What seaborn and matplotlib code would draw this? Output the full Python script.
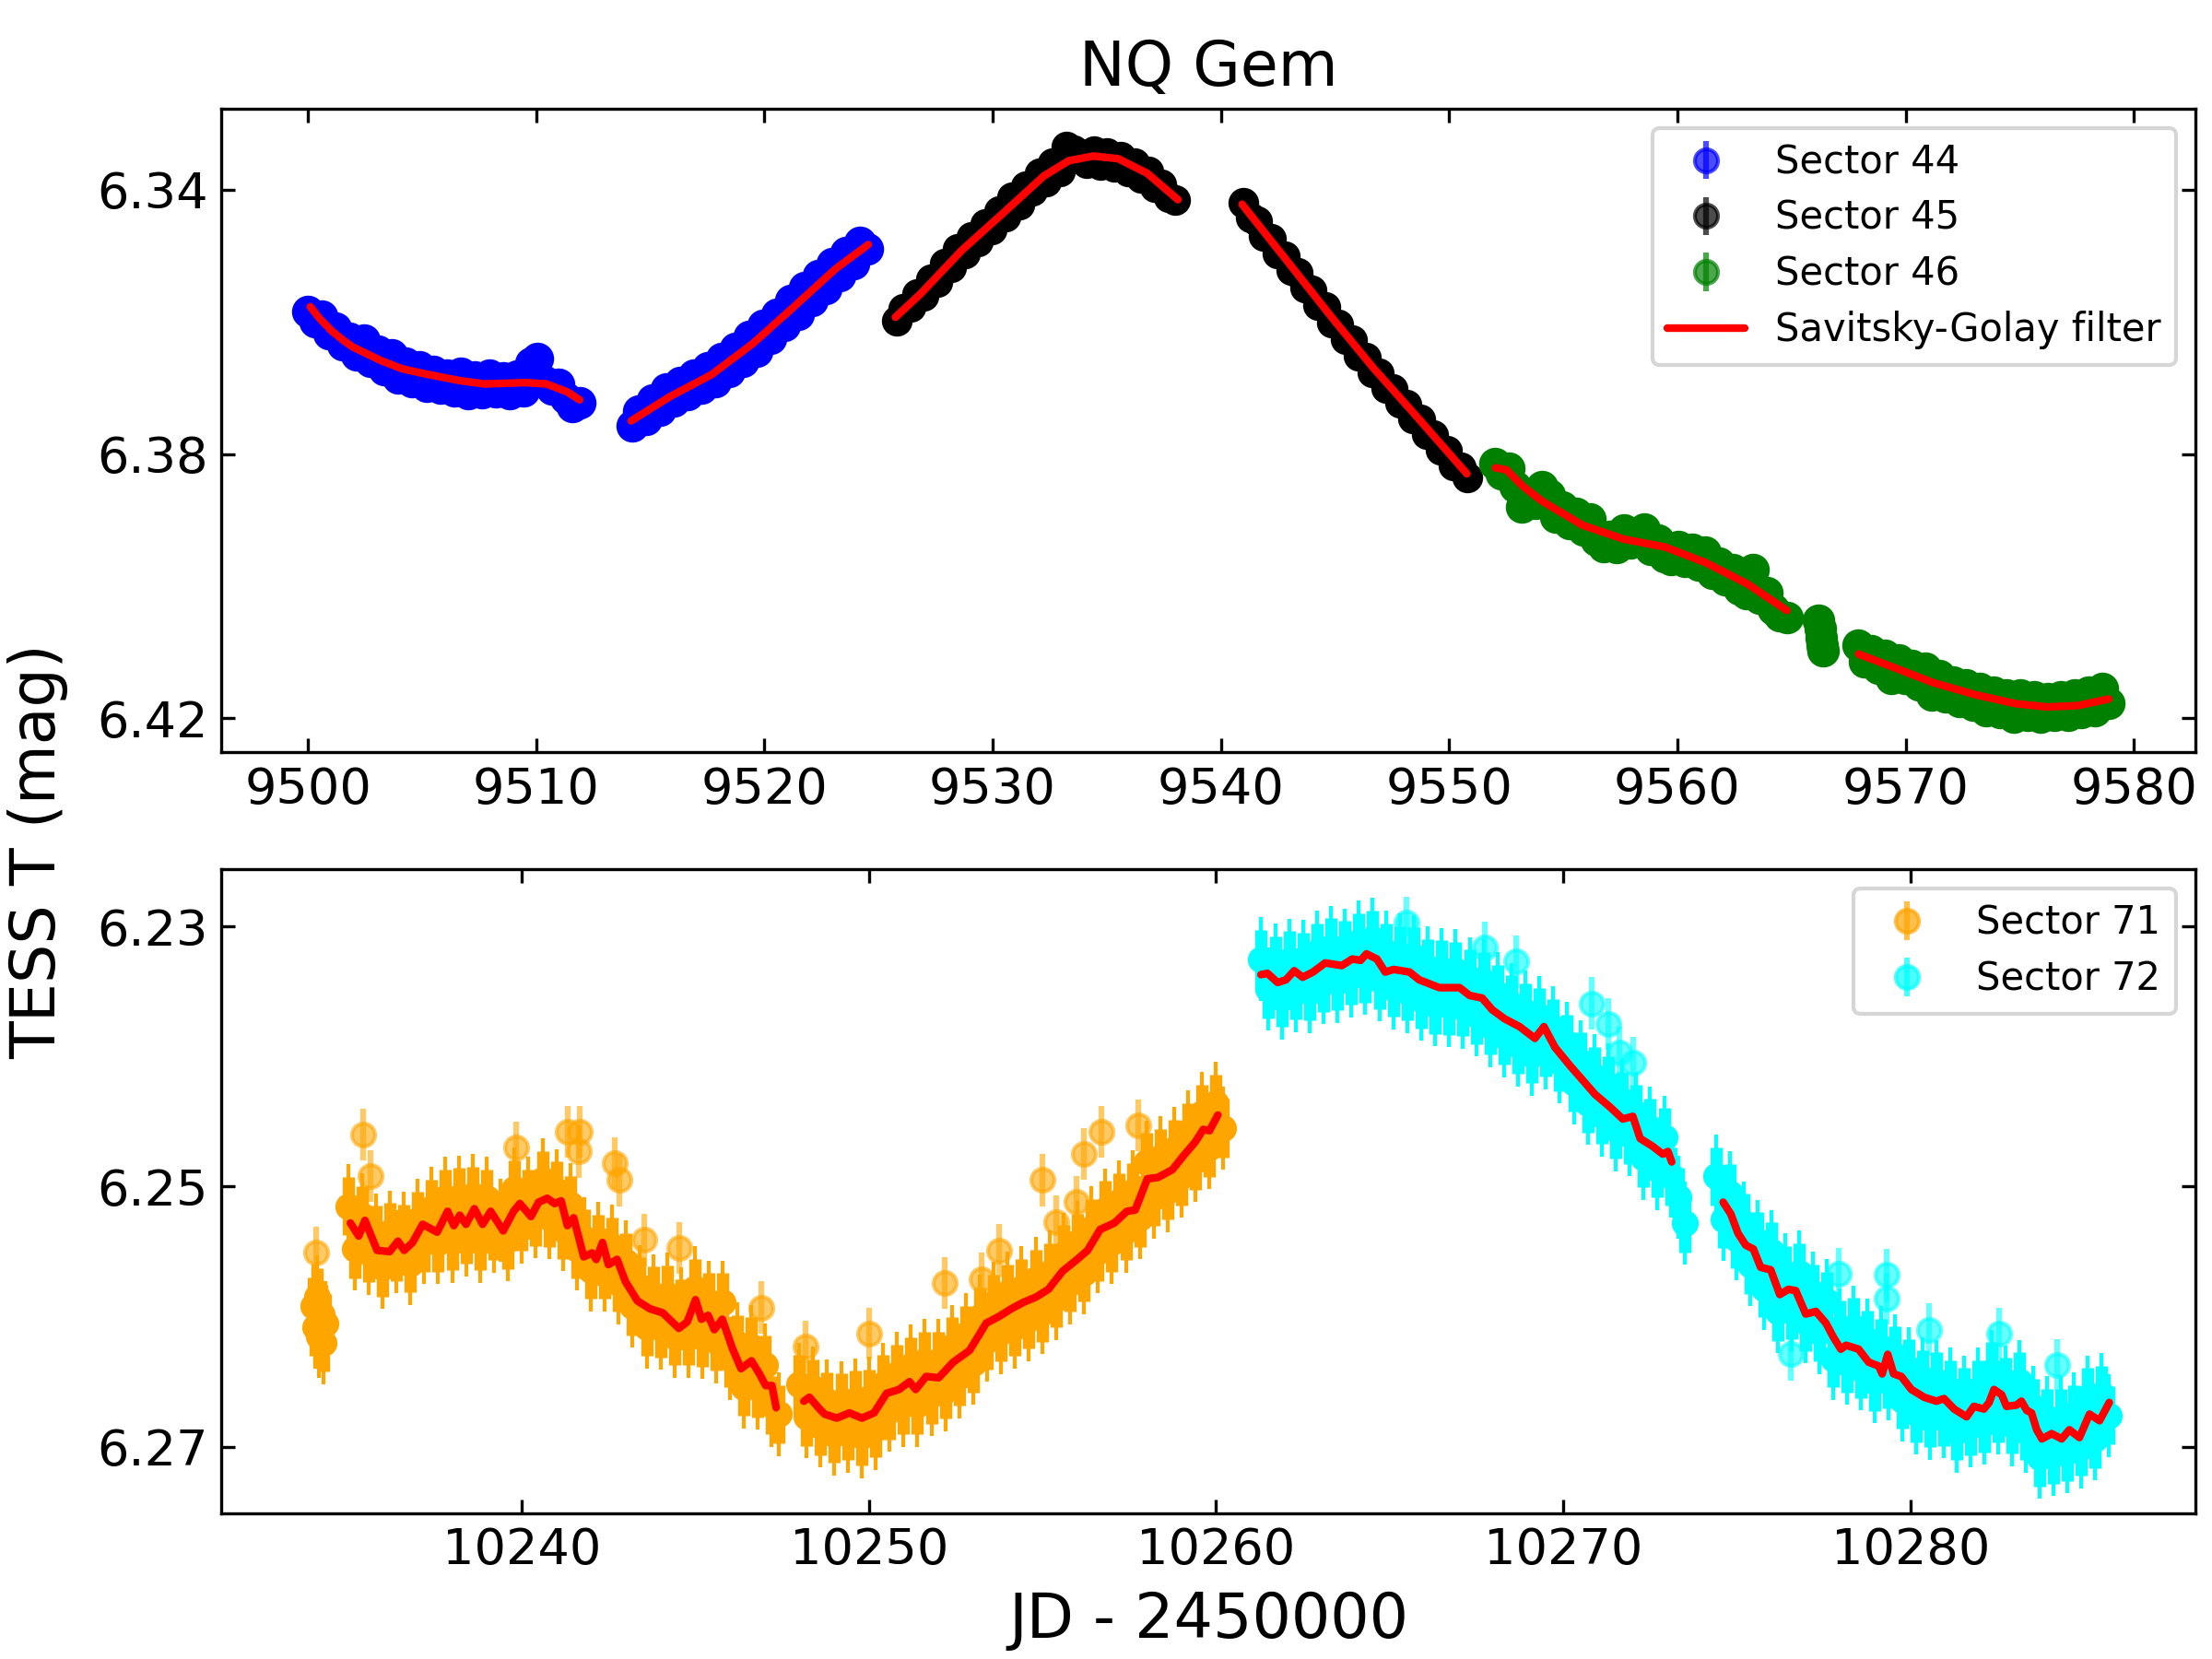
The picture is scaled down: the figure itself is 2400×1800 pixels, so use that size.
import numpy as np
import matplotlib
matplotlib.use("Agg")
import matplotlib.pyplot as plt
import seaborn as sns

# ==========================
# Data
# ==========================

# Sector 44 (two orbits)
s44a_mag = [6.3585, 6.3600, 6.3592, 6.3618, 6.3610, 6.3635, 6.3625, 6.3650, 6.3628, 6.3660,
            6.3645, 6.3672, 6.3650, 6.3685, 6.3662, 6.3690, 6.3668, 6.3698, 6.3675, 6.3700,
            6.3680, 6.3705, 6.3678, 6.3708, 6.3684, 6.3707, 6.3680, 6.3706, 6.3685, 6.3708,
            6.3682, 6.3705, 6.3662, 6.3655, 6.3690, 6.3702, 6.3695, 6.3715, 6.3728, 6.3722]
s44b_mag = [6.3758, 6.3735, 6.3748, 6.3718, 6.3733, 6.3702, 6.3720, 6.3692, 6.3710, 6.3680,
            6.3700, 6.3670, 6.3690, 6.3655, 6.3675, 6.3640, 6.3660, 6.3622, 6.3645, 6.3605,
            6.3625, 6.3588, 6.3605, 6.3568, 6.3588, 6.3548, 6.3568, 6.3530, 6.3550, 6.3512,
            6.3530, 6.3495, 6.3512, 6.3480, 6.3490]
# Sector 45
s45a_mag = [6.3598, 6.3580, 6.3578, 6.3558, 6.3560, 6.3535, 6.3540, 6.3512, 6.3518, 6.3490,
            6.3496, 6.3472, 6.3478, 6.3452, 6.3460, 6.3432, 6.3440, 6.3412, 6.3422, 6.3395,
            6.3402, 6.3375, 6.3388, 6.3360, 6.3372, 6.3335, 6.3340, 6.3346, 6.3360, 6.3342,
            6.3362, 6.3345, 6.3365, 6.3350, 6.3372, 6.3360, 6.3382, 6.3372, 6.3396, 6.3392,
            6.3412, 6.3415]
s45b_mag = [6.3420, 6.3442, 6.3448, 6.3470, 6.3474, 6.3496, 6.3500, 6.3522, 6.3526, 6.3548,
            6.3552, 6.3575, 6.3578, 6.3601, 6.3604, 6.3626, 6.3628, 6.3651, 6.3654, 6.3677,
            6.3678, 6.3700, 6.3702, 6.3723, 6.3725, 6.3746, 6.3748, 6.3770, 6.3772, 6.3793,
            6.3795, 6.3817, 6.3820, 6.3836]
# Sector 46
s46a_mag = [6.3815, 6.3830, 6.3822, 6.3850, 6.3880, 6.3860, 6.3875, 6.3850, 6.3862, 6.3895,
            6.3880, 6.3905, 6.3890, 6.3915, 6.3898, 6.3930, 6.3940, 6.3925, 6.3942, 6.3915,
            6.3935, 6.3920, 6.3914, 6.3945, 6.3930, 6.3955, 6.3960, 6.3940, 6.3962, 6.3945,
            6.3968, 6.3948, 6.3980, 6.3965, 6.3990, 6.3975, 6.4005, 6.4012, 6.3975, 6.4018,
            6.4010, 6.4035, 6.4045, 6.4048]
s46c_mag = [6.4052, 6.4065, 6.4078, 6.4090, 6.4098]
s46b_mag = [6.4090, 6.4115, 6.4098, 6.4125, 6.4105, 6.4140, 6.4112, 6.4140, 6.4120, 6.4150,
            6.4125, 6.4165, 6.4135, 6.4168, 6.4145, 6.4175, 6.4150, 6.4180, 6.4155, 6.4188,
            6.4160, 6.4192, 6.4165, 6.4198, 6.4165, 6.4195, 6.4168, 6.4198, 6.4170, 6.4196,
            6.4168, 6.4195, 6.4165, 6.4192, 6.4160, 6.4188, 6.4155, 6.4178]

# segment start / end times (JD - 2450000)
s44a_t = np.linspace(9500.0, 9511.9, len(s44a_mag))
s44b_t = np.linspace(9514.2, 9524.5, len(s44b_mag))
s45a_t = np.linspace(9525.8, 9538.0, len(s45a_mag))
s45b_t = np.linspace(9541.0, 9550.8, len(s45b_mag))
s46a_t = np.linspace(9552.0, 9564.8, len(s46a_mag))
s46c_t = np.linspace(9566.2, 9566.4, len(s46c_mag))
s46b_t = np.linspace(9567.9, 9578.9, len(s46b_mag))
err_top = 0.0006

# Savitsky-Golay curves, top panel
sg44a_t = [9500.10, 9500.51, 9501.05, 9501.51, 9501.96, 9503.22, 9504.12, 9505.03, 9506.65,
           9507.74, 9509.55, 9510.45, 9511.36, 9511.90]
sg44a_m = [6.3577, 6.3595, 6.3614, 6.3627, 6.3638, 6.3659, 6.3671, 6.3678, 6.3689,
           6.3694, 6.3692, 6.3694, 6.3706, 6.3718]
sg44b_t = [9514.16, 9515.87, 9517.68, 9519.49, 9521.30, 9523.11, 9524.55]
sg44b_m = [6.3750, 6.3713, 6.3680, 6.3633, 6.3577, 6.3520, 6.3483]
sg45a_t = [9525.74, 9526.83, 9528.64, 9530.44, 9532.25, 9533.34, 9534.42, 9535.50, 9536.77, 9538.12]
sg45a_m = [6.3593, 6.3558, 6.3492, 6.3436, 6.3379, 6.3356, 6.3349, 6.3353, 6.3375, 6.3415]
sg45b_t = [9540.93, 9543.09, 9544.90, 9546.71, 9548.52, 9550.78]
sg45b_m = [6.3422, 6.3516, 6.3595, 6.3671, 6.3741, 6.3830]
sg46a_t = [9552.03, 9552.51, 9553.20, 9554.05, 9555.85, 9557.66, 9559.47, 9561.27, 9563.08, 9564.80]
sg46a_m = [6.3821, 6.3824, 6.3848, 6.3871, 6.3908, 6.3929, 6.3941, 6.3965, 6.3997, 6.4037]
sg46b_t = [9567.94, 9569.39, 9571.19, 9573.00, 9574.81, 9576.20, 9577.54, 9578.90]
sg46b_m = [6.4103, 6.4122, 6.4146, 6.4164, 6.4178, 6.4183, 6.4181, 6.4171]

# Sector 71
s71a_mag = [6.2592, 6.2608, 6.2585, 6.2615, 6.2598, 6.2620, 6.2605]
s71b_mag = [6.2515, 6.2548, 6.2522, 6.2551, 6.2537, 6.2562, 6.2535, 6.2550, 6.2536, 6.2559,
            6.2526, 6.2543, 6.2517, 6.2543, 6.2509, 6.2542, 6.2508, 6.2537, 6.2507, 6.2542,
            6.2509, 6.2534, 6.2526, 6.2541, 6.2502, 6.2527, 6.2509, 6.2523, 6.2495, 6.2524,
            6.2503, 6.2533, 6.2514, 6.2548, 6.2540, 6.2564, 6.2544, 6.2564, 6.2546, 6.2574,
            6.2558, 6.2592, 6.2577, 6.2608, 6.2584, 6.2609, 6.2583, 6.2615, 6.2594, 6.2615,
            6.2578, 6.2616, 6.2589, 6.2619, 6.2589, 6.2632, 6.2621, 6.2654, 6.2623, 6.2655,
            6.2637, 6.2668, 6.2675]
s71c_mag = [6.2652, 6.2677, 6.2655, 6.2684, 6.2665, 6.2690, 6.2666, 6.2688, 6.2664, 6.2692,
            6.2663, 6.2686, 6.2652, 6.2672, 6.2644, 6.2668, 6.2638, 6.2668, 6.2634, 6.2660,
            6.2634, 6.2656, 6.2623, 6.2646, 6.2614, 6.2636, 6.2600, 6.2618, 6.2590, 6.2612,
            6.2582, 6.2608, 6.2578, 6.2602, 6.2571, 6.2597, 6.2566, 6.2586, 6.2552, 6.2574,
            6.2543, 6.2566, 6.2532, 6.2550, 6.2518, 6.2543, 6.2512, 6.2534, 6.2504, 6.2524,
            6.2481, 6.2508, 6.2478, 6.2503, 6.2471, 6.2492, 6.2458, 6.2480, 6.2444, 6.2470,
            6.2436, 6.2455]
# Sector 72
s72a_mag = [6.2325, 6.2348, 6.2330, 6.2355, 6.2326, 6.2349, 6.2327, 6.2350, 6.2320, 6.2343,
            6.2316, 6.2342, 6.2318, 6.2338, 6.2312, 6.2336, 6.2310, 6.2341, 6.2320, 6.2347,
            6.2322, 6.2350, 6.2323, 6.2356, 6.2332, 6.2360, 6.2333, 6.2361, 6.2334, 6.2362,
            6.2340, 6.2368, 6.2342, 6.2376, 6.2352, 6.2384, 6.2360, 6.2391, 6.2366, 6.2398,
            6.2370, 6.2393, 6.2378, 6.2404, 6.2390, 6.2420, 6.2404, 6.2436, 6.2415, 6.2445,
            6.2422, 6.2456, 6.2434, 6.2460, 6.2444, 6.2478, 6.2455, 6.2486, 6.2462, 6.2492,
            6.2508, 6.2528]
s72b_mag = [6.2492, 6.2525, 6.2505, 6.2540, 6.2528, 6.2560, 6.2542, 6.2578, 6.2550, 6.2596,
            6.2568, 6.2595, 6.2566, 6.2604, 6.2582, 6.2612, 6.2588, 6.2632, 6.2610, 6.2636,
            6.2608, 6.2640, 6.2618, 6.2650, 6.2624, 6.2648, 6.2630, 6.2664, 6.2640, 6.2674,
            6.2648, 6.2678, 6.2650, 6.2677, 6.2656, 6.2688, 6.2662, 6.2684, 6.2656, 6.2682,
            6.2642, 6.2674, 6.2654, 6.2683, 6.2650, 6.2688, 6.2670, 6.2708, 6.2678, 6.2706,
            6.2678, 6.2704, 6.2675, 6.2700, 6.2662, 6.2694, 6.2660, 6.2676]

s71a_t = np.linspace(10234.0, 10234.35, len(s71a_mag))
s71b_t = np.linspace(10235.0, 10247.4, len(s71b_mag))
s71c_t = np.linspace(10248.0, 10260.2, len(s71c_mag))
s72a_t = np.linspace(10261.3, 10273.5, len(s72a_mag))
s72b_t = np.linspace(10274.4, 10285.7, len(s72b_mag))
err_bot = 0.0032

# isolated points standing out of the bands
out71_t = [10234.08, 10235.43, 10235.66, 10239.83, 10241.32, 10241.68, 10241.65, 10242.69,
           10242.81, 10243.52, 10244.53, 10246.91, 10248.19, 10250.00, 10252.18, 10253.25,
           10253.75, 10255.01, 10255.39, 10255.99, 10256.20, 10256.70, 10257.75]
out71_m = [6.2551, 6.2460, 6.2492, 6.2470, 6.2458, 6.2458, 6.2473, 6.2482,
           6.2495, 6.2541, 6.2547, 6.2593, 6.2623, 6.2613, 6.2574, 6.2571,
           6.2549, 6.2495, 6.2527, 6.2512, 6.2475, 6.2458, 6.2453]
out72_t = [10265.49, 10267.73, 10268.64, 10270.81, 10271.30, 10271.61, 10272.00, 10277.92,
           10279.30, 10279.30, 10280.53, 10276.55, 10282.55, 10284.21]
out72_m = [6.2297, 6.2316, 6.2327, 6.2359, 6.2375, 6.2397, 6.2405, 6.2567,
           6.2568, 6.2586, 6.2610, 6.2629, 6.2613, 6.2637]
err_out = 0.0020

# Savitsky-Golay curves, bottom panel
sg71b_t = [10235.07, 10235.31, 10235.49, 10235.84, 10236.20, 10236.44, 10236.62, 10236.86,
           10237.15, 10237.57, 10237.87, 10238.05, 10238.22, 10238.40, 10238.64, 10238.88,
           10239.11, 10239.47, 10239.77, 10239.95, 10240.27, 10240.49, 10240.74, 10240.95,
           10241.14, 10241.32, 10241.50, 10241.79, 10242.03, 10242.15, 10242.33, 10242.50,
           10242.75, 10242.99, 10243.34, 10243.70, 10244.06, 10244.53, 10244.77, 10245.01,
           10245.18, 10245.37, 10245.55, 10245.78, 10246.08, 10246.32, 10246.62, 10246.85,
           10247.03, 10247.21, 10247.33]
sg71b_m = [6.2528, 6.2538, 6.2526, 6.2549, 6.2550, 6.2542, 6.2549, 6.2543,
           6.2529, 6.2535, 6.2519, 6.2530, 6.2522, 6.2529, 6.2517, 6.2529,
           6.2519, 6.2534, 6.2519, 6.2513, 6.2523, 6.2512, 6.2509, 6.2513,
           6.2511, 6.2530, 6.2524, 6.2554, 6.2551, 6.2556, 6.2543, 6.2560,
           6.2556, 6.2573, 6.2588, 6.2594, 6.2597, 6.2609, 6.2604, 6.2587,
           6.2602, 6.2599, 6.2610, 6.2602, 6.2625, 6.2640, 6.2634, 6.2644,
           6.2653, 6.2653, 6.2670]
sg71c_t = [10248.13, 10248.29, 10248.58, 10248.73, 10249.08, 10249.44, 10249.80, 10250.15,
           10250.51, 10250.87, 10251.17, 10251.35, 10251.65, 10252.01, 10252.43, 10252.90,
           10253.38, 10253.74, 10254.10, 10254.45, 10254.81, 10255.17, 10255.58, 10256.00,
           10256.30, 10256.66, 10257.07, 10257.43, 10257.67, 10258.02, 10258.32, 10258.74,
           10259.10, 10259.39, 10259.63, 10259.81, 10260.05]
sg71c_m = [6.2665, 6.2662, 6.2671, 6.2675, 6.2678, 6.2674, 6.2678, 6.2674,
           6.2659, 6.2656, 6.2650, 6.2656, 6.2646, 6.2647, 6.2635, 6.2626,
           6.2605, 6.2600, 6.2594, 6.2589, 6.2585, 6.2579, 6.2565, 6.2556,
           6.2549, 6.2533, 6.2528, 6.2519, 6.2518, 6.2494, 6.2493, 6.2487,
           6.2475, 6.2466, 6.2456, 6.2457, 6.2445]
sg72a_t = [10261.29, 10261.48, 10261.77, 10262.01, 10262.25, 10262.49, 10262.79, 10263.14,
           10263.62, 10263.92, 10264.16, 10264.33, 10264.63, 10264.87, 10265.11, 10265.57,
           10265.85, 10266.43, 10267.01, 10267.30, 10267.66, 10267.95, 10268.31, 10268.74,
           10269.18, 10269.44, 10269.76, 10270.19, 10270.55, 10270.91, 10271.35, 10271.71,
           10272.00, 10272.21, 10272.57, 10272.86, 10273.01, 10273.12]
sg72a_m = [6.2337, 6.2336, 6.2343, 6.2341, 6.2334, 6.2339, 6.2335, 6.2328,
           6.2330, 6.2325, 6.2326, 6.2321, 6.2325, 6.2335, 6.2333, 6.2335,
           6.2341, 6.2347, 6.2347, 6.2353, 6.2355, 6.2364, 6.2371, 6.2377,
           6.2386, 6.2377, 6.2393, 6.2407, 6.2418, 6.2429, 6.2439, 6.2448,
           6.2446, 6.2463, 6.2469, 6.2475, 6.2473, 6.2481]
sg72b_t = [10274.60, 10274.82, 10275.03, 10275.25, 10275.47, 10275.68, 10275.97, 10276.23,
           10276.48, 10276.69, 10276.98, 10277.27, 10277.56, 10277.78, 10277.99, 10278.14,
           10278.50, 10278.79, 10279.08, 10279.18, 10279.34, 10279.51, 10279.73, 10280.02,
           10280.39, 10280.74, 10280.96, 10281.25, 10281.61, 10281.82, 10282.11, 10282.26,
           10282.40, 10282.62, 10282.76, 10283.05, 10283.19, 10283.34, 10283.48, 10283.63,
           10283.78, 10284.06, 10284.35, 10284.57, 10284.86, 10285.15, 10285.44, 10285.72]
sg72b_m = [6.2512, 6.2521, 6.2536, 6.2545, 6.2548, 6.2562, 6.2564, 6.2583,
           6.2579, 6.2580, 6.2598, 6.2596, 6.2605, 6.2616, 6.2625, 6.2622,
           6.2625, 6.2635, 6.2638, 6.2644, 6.2629, 6.2644, 6.2646, 6.2656,
           6.2662, 6.2665, 6.2663, 6.2671, 6.2677, 6.2669, 6.2671, 6.2666,
           6.2656, 6.2660, 6.2669, 6.2668, 6.2665, 6.2672, 6.2674, 6.2687,
           6.2694, 6.2690, 6.2694, 6.2687, 6.2693, 6.2675, 6.2680, 6.2666]


# ==========================
# Figure
# ==========================

sns.set_style("ticks", {"axes.edgecolor": "black", "xtick.color": "black",
                        "ytick.color": "black", "text.color": "black",
                        "axes.labelcolor": "black"})
plt.rcParams["font.family"] = ["DejaVu Sans"]

fig = plt.figure(figsize=(8, 6), dpi=300)
ax1 = fig.add_axes([0.100, 0.5464, 0.8925, 0.3882])
ax2 = fig.add_axes([0.100, 0.0880, 0.8925, 0.3880])


def points(ax, t, m, err, color, ms=6, alpha=1.0, elw=1.5):
    ax.errorbar(t, m, yerr=err, fmt="o", color=color, ms=ms, alpha=alpha,
                elinewidth=elw)


def band(ax, t, m, err, color):
    # dense light curve: thin error bars underneath, thick ones with markers on top
    ax.errorbar(t, m, yerr=err, fmt="none", ecolor=color, elinewidth=1.0)
    ax.errorbar(t, m, yerr=err * 0.7, fmt="o", color=color, ms=6, elinewidth=3.2)


def key(ax, color, label):
    # empty errorbar, only used as legend entry
    return ax.errorbar([], [], yerr=[], fmt="o", color=color, ms=6, alpha=0.7,
                       elinewidth=1.5, label=label)


def sg_line(ax, t, m):
    sns.lineplot(x=t, y=m, ax=ax, color="red", lw=2, sort=False,
                 estimator=None, zorder=5, legend=False)
    return ax.lines[-1]


# top panel
points(ax1, np.concatenate([s44a_t, s44b_t]), s44a_mag + s44b_mag, err_top, "blue", ms=7.5)
points(ax1, np.concatenate([s45a_t, s45b_t]), s45a_mag + s45b_mag, err_top, "black", ms=7)
points(ax1, np.concatenate([s46a_t, s46c_t, s46b_t]), s46a_mag + s46c_mag + s46b_mag,
       err_top, "green", ms=7.5)

h_sg = sg_line(ax1, sg44a_t, sg44a_m)
sg_line(ax1, sg44b_t, sg44b_m)
sg_line(ax1, sg45a_t, sg45a_m)
sg_line(ax1, sg45b_t, sg45b_m)
sg_line(ax1, sg46a_t, sg46a_m)
sg_line(ax1, sg46b_t, sg46b_m)

h44 = key(ax1, "blue", "Sector 44")
h45 = key(ax1, "black", "Sector 45")
h46 = key(ax1, "green", "Sector 46")

ax1.set_xlim(9496.2, 9582.7)
ax1.set_ylim(6.4252, 6.3277)
ax1.set_xticks(np.arange(9500, 9581, 10))
ax1.set_yticks([6.34, 6.38, 6.42])
ax1.set_title("NQ Gem", fontsize=16)
ax1.legend([h44, h45, h46, h_sg],
           ["Sector 44", "Sector 45", "Sector 46", "Savitsky-Golay filter"],
           loc="upper right", fontsize=10, labelspacing=0.45)

# bottom panel
band(ax2, np.concatenate([s71a_t, s71b_t, s71c_t]), s71a_mag + s71b_mag + s71c_mag,
     err_bot, "orange")
points(ax2, out71_t, out71_m, err_out, "orange", alpha=0.6)
band(ax2, np.concatenate([s72a_t, s72b_t]), s72a_mag + s72b_mag, err_bot, "cyan")
points(ax2, out72_t, out72_m, err_out, "cyan", alpha=0.6)

sg_line(ax2, sg71b_t, sg71b_m)
sg_line(ax2, sg71c_t, sg71c_m)
sg_line(ax2, sg72a_t, sg72a_m)
sg_line(ax2, sg72b_t, sg72b_m)

h71 = key(ax2, "orange", "Sector 71")
h72 = key(ax2, "cyan", "Sector 72")

ax2.set_xlim(10231.35, 10288.2)
ax2.set_ylim(6.2751, 6.2256)
ax2.set_xticks(np.arange(10240, 10281, 10))
ax2.set_yticks([6.23, 6.25, 6.27])
ax2.set_xlabel("JD - 2450000", fontsize=16)
ax2.legend([h71, h72], ["Sector 71", "Sector 72"], loc="upper right", fontsize=10,
           labelspacing=0.45)

for ax in (ax1, ax2):
    ax.tick_params(direction="in", top=True, right=True, labelsize=13,
                   length=3.5, width=0.8)
    for sp in ax.spines.values():
        sp.set_linewidth(0.8)

fig.text(0.017, 0.487, "TESS T (mag)", rotation=90, va="center", ha="center",
         fontsize=16)

fig.savefig("out.png", dpi=300)
